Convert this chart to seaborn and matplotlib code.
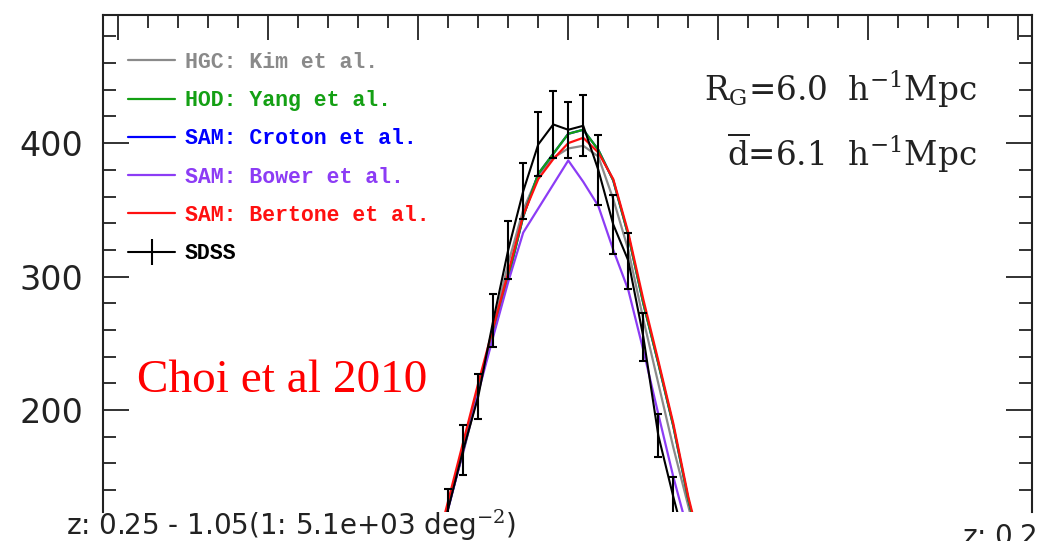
import numpy as np
import pandas as pd
import matplotlib
matplotlib.use("Agg")
import matplotlib.pyplot as plt
from matplotlib.lines import Line2D
import seaborn as sns

# === Data ===
nu = [-0.9, -0.8, -0.7, -0.6, -0.5, -0.4, -0.3, -0.2, -0.1, 0.0,
      0.1, 0.2, 0.3, 0.4, 0.5, 0.6, 0.7, 0.8, 0.9]

hgc_kim = [85, 128, 168, 213, 262, 310, 350, 376, 389, 396,
           398, 390, 358, 320, 268, 220, 172, 128, 85]
hod_yang = [84, 127, 170, 215, 257, 299, 345, 377, 392, 407,
            410, 395, 372, 331, 280, 235, 188, 133, 88]
sam_croton = [84, 127, 170, 215, 257, 299, 345, 377, 392, 407,
              410, 395, 372, 331, 280, 235, 188, 133, 88]
sam_bower = [84, 126, 169, 213, 255, 296, 333, 351, 369, 387,
             371, 353, 320, 290, 245, 197, 150, 108, 70]
sam_bertone = [88, 132, 176, 220, 262, 303, 346, 373, 388, 400,
               404, 393, 373, 333, 283, 237, 190, 135, 90]

nu_sdss = [-0.9, -0.8, -0.7, -0.6, -0.5, -0.4, -0.3, -0.2, -0.1, 0.0,
           0.1, 0.2, 0.3, 0.4, 0.5, 0.6, 0.7, 0.8]
sdss = [82, 126, 170, 210, 267, 320, 364, 399, 414, 410,
        413, 380, 339, 312, 255, 181, 135, 92]
sdss_err = [14, 15, 19, 17, 20, 22, 21, 24, 25, 21,
            23, 26, 22, 21, 18, 16, 15, 14]

labels = ["HGC: Kim et al.", "HOD: Yang et al.", "SAM: Croton et al.",
          "SAM: Bower et al.", "SAM: Bertone et al."]
colors = ["#8a8a8a", "#14a014", "#0000ff", "#8c3cf5", "#ff1010"]

# === Long-form table ===
models = pd.DataFrame({
    "nu": nu * 5,
    "genus": hgc_kim + hod_yang + sam_croton + sam_bower + sam_bertone,
    "model": sum([[lab] * len(nu) for lab in labels], []),
})

sns.set_style("ticks")
plt.rcParams["mathtext.fontset"] = "dejavuserif"

fig = plt.figure(figsize=(10.39, 5.41), dpi=100)
ax = fig.add_axes([103 / 1039, 29 / 541, 929 / 1039, 497 / 541])

# draw order: blue under green so it stays hidden like in the original
order = [labels[0], labels[2], labels[1], labels[3], labels[4]]
pal = dict(zip(labels, colors))
for lab in order:
    sns.lineplot(data=models[models["model"] == lab], x="nu", y="genus",
                 color=pal[lab], lw=1.6, ax=ax, label=lab, legend=False)

ax.errorbar(nu_sdss, sdss, yerr=sdss_err, color="black", lw=1.5,
            elinewidth=1.5, capsize=3, capthick=1.5, zorder=5)

# === Axes look ===
ax.set_xlim(-3.1, 3.09)
ax.set_ylim(123.6, 496)
ax.set_xlabel("")
ax.set_ylabel("")
ax.set_xticks(np.arange(-3, 4, 1))
ax.set_xticks(np.arange(-3, 3.01, 0.2), minor=True)
ax.set_yticks([200, 300, 400])
ax.set_yticks(np.arange(140, 500, 20), minor=True)
ax.tick_params(axis="x", which="both", direction="in", top=True, bottom=False,
               labelbottom=False, labeltop=False, width=1.3, color="#222222")
ax.tick_params(axis="x", which="major", length=18)
ax.tick_params(axis="x", which="minor", length=9.5)
ax.tick_params(axis="y", which="both", direction="in", left=True, right=True,
               width=1.3, color="#222222")
ax.tick_params(axis="y", which="major", length=19, labelsize=24, pad=14)
ax.tick_params(axis="y", which="minor", length=9.5)
for t in ax.get_yticklabels():
    t.set_color("#222222")
for side in ["left", "right", "top"]:
    ax.spines[side].set_linewidth(1.5)
    ax.spines[side].set_color("#222222")
ax.spines["bottom"].set_visible(False)

# === Legend ===
handles, labs = ax.get_legend_handles_labels()
hmap = dict(zip(labs, handles))
sdss_h = Line2D([], [], color="black", lw=1.5, marker="|", markersize=19,
                markeredgewidth=1.5)
leg_h = [hmap[l] for l in labels] + [sdss_h]
leg = ax.legend(leg_h, labels + ["SDSS"], loc="upper left",
                bbox_to_anchor=(128 / 1039, 1 - 52 / 541),
                bbox_transform=fig.transFigure, frameon=False, borderpad=0,
                borderaxespad=0, handlelength=2.2, handletextpad=0.45,
                labelspacing=0.8,
                prop={"family": "Liberation Mono", "weight": "bold", "size": 15.5},
                labelcolor=colors + ["black"])

# === Annotations ===
fig.text(977 / 1039, 1 - 101 / 541, r"R$_\mathrm{G}$=6.0  h$^{-1}$Mpc",
         ha="right", va="baseline", fontsize=23.5, family="DejaVu Serif", color="#222222")
fig.text(977 / 1039, 1 - 166 / 541, r"$\overline{\mathrm{d}}$=6.1  h$^{-1}$Mpc",
         ha="right", va="baseline", fontsize=23.5, family="DejaVu Serif", color="#222222")
fig.text(137 / 1039, 1 - 392 / 541, "Choi et al 2010", ha="left", va="baseline",
         fontsize=34, family="Liberation Serif", color="red")
fig.text(66 / 1039, 1 - 535 / 541, r"z: 0.25 - 1.05(1: 5.1e+03 deg$^{-2}$)",
         ha="left", va="baseline", fontsize=20, color="#222222")
fig.text(962 / 1039, 1 - 546 / 541, r"z: 0.25 - 1.05(1: 5.1e+03 deg$^{-2}$)",
         ha="left", va="baseline", fontsize=20, color="#222222")

fig.savefig("out.png", dpi=100)
